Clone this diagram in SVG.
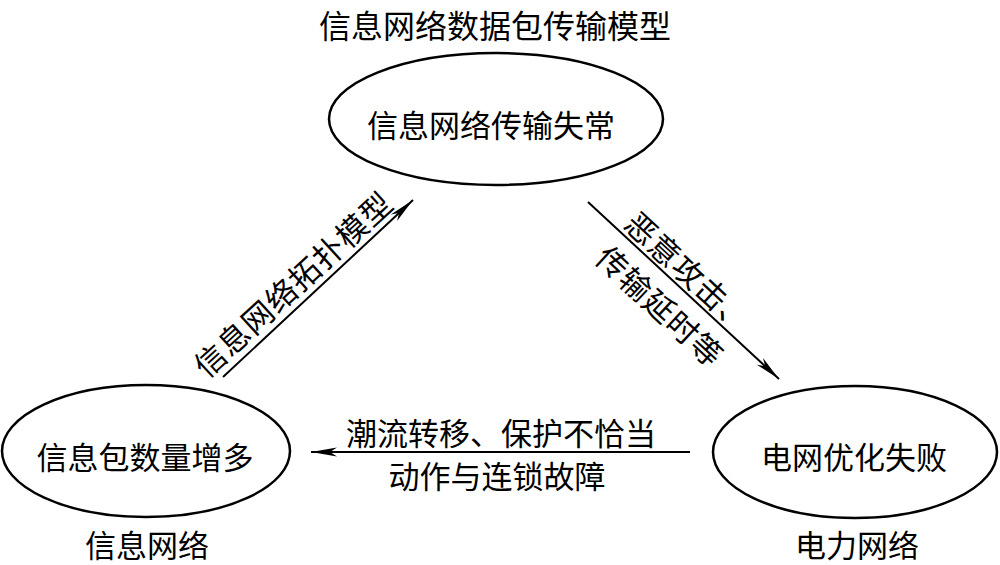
<svg xmlns="http://www.w3.org/2000/svg" width="1000" height="565" viewBox="0 0 1000 565">
<style>
text{font-family:"Noto Sans CJK SC","Noto Sans CJK JP",sans-serif;font-size:31px;fill:#000;text-anchor:middle;dominant-baseline:central}
.title{font-size:32px}
.node{fill:#fff;stroke:#000;stroke-width:2.5}
.edge{stroke:#000;stroke-width:2;fill:none;marker-end:url(#arr)}
</style>
<defs>
<marker id="arr" markerUnits="userSpaceOnUse" markerWidth="30" markerHeight="12" viewBox="-27 -6 28 12" refX="0" refY="0" orient="auto">
<path d="M0,0 L-26,-4.5 L-19,0 L-26,4.5 Z" fill="#000"/>
</marker>
</defs>
<rect width="1000" height="565" fill="#fff"/>
<text class="title" x="495" y="24">信息网络数据包传输模型</text>
<g id="connectors">
<line class="edge" x1="223" y1="377" x2="413" y2="200"/>
<line class="edge" x1="588" y1="202" x2="779" y2="379"/>
<line class="edge" x1="690" y1="452" x2="311" y2="452"/>
<text transform="translate(292,283) rotate(-42.5)" style="letter-spacing:1px">信息网络拓扑模型</text>
<text transform="translate(690,271) rotate(42.8)" style="letter-spacing:1px">恶意攻击、</text>
<text transform="translate(661,305) rotate(42.8)" style="letter-spacing:1px">传输延时等</text>
<text x="501" y="431">潮流转移、保护不恰当</text>
<text x="497" y="474">动作与连锁故障</text>
</g>
<g id="node-top">
<ellipse class="node" cx="496" cy="119" rx="167" ry="66"/>
<text x="491" y="123">信息网络传输失常</text>
</g>
<g id="node-left">
<ellipse class="node" cx="146" cy="451" rx="144" ry="66"/>
<text x="145" y="455">信息包数量增多</text>
<text x="147" y="543">信息网络</text>
</g>
<g id="node-right">
<ellipse class="node" cx="855" cy="452" rx="142" ry="66"/>
<text x="854" y="455">电网优化失败</text>
<text x="857" y="543">电力网络</text>
</g>
</svg>
